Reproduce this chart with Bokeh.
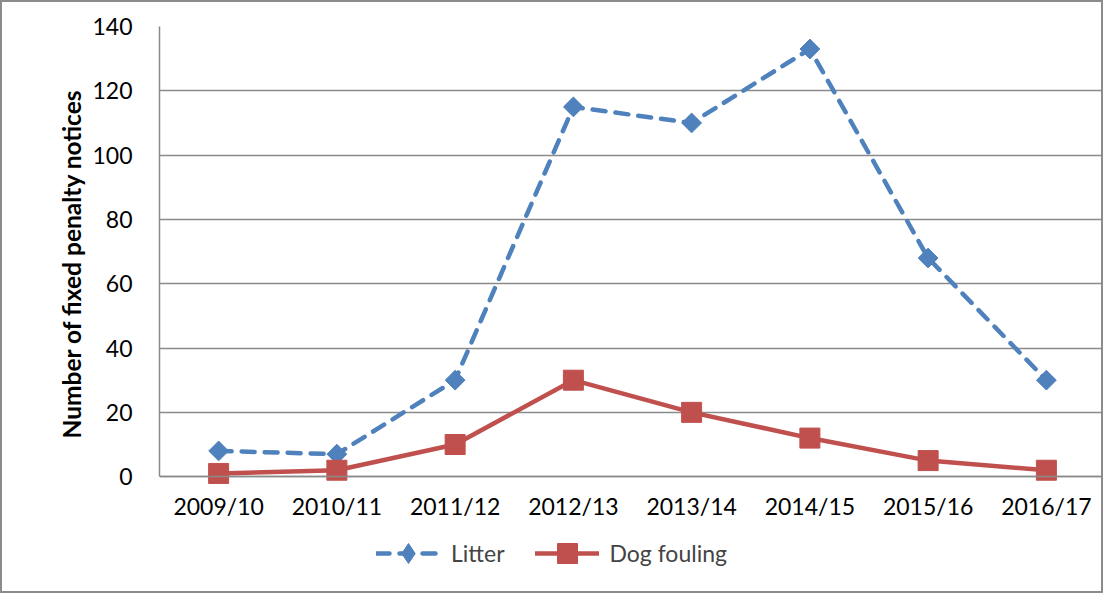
import math
from bokeh.plotting import figure
from bokeh.models import (FactorRange, Range1d, Legend, LegendItem, FixedTicker, Title,
                          ColumnDataSource)
from bokeh.embed import file_html
from bokeh.resources import INLINE

years = ["2009/10", "2010/11", "2011/12", "2012/13", "2013/14", "2014/15", "2015/16", "2016/17"]
litter = [8, 7, 30, 115, 110, 133, 68, 30]
dog_fouling = [1, 2, 10, 30, 20, 12, 5, 2]
y_ticks = [0, 20, 40, 60, 80, 100, 120, 140]

FONT = "Lato"
GRID = "#8a8a8a"
BLUE = "#4F81BD"
RED = "#C0504D"

# frame runs from the top gridline down to the bottom of the chart box;
# the value axis occupies 447 px for 0..140, the rest (118 px) holds labels + legend
Y_BOTTOM = -118 / (447 / 140)

p = figure(x_range=FactorRange(*years), y_range=Range1d(Y_BOTTOM, 140),
           width=1103, height=593, output_backend="svg", toolbar_location=None,
           min_border_left=157, min_border_top=24, min_border_bottom=0, min_border_right=0,
           styles={"border": "2px solid #8c8c8c", "box-sizing": "border-box"})
p.outline_line_color = None
p.background_fill_color = "white"

p.xgrid.grid_line_color = None
p.ygrid.grid_line_color = GRID
p.ygrid.grid_line_width = 1.5
p.yaxis.ticker = FixedTicker(ticks=y_ticks)
p.yaxis.bounds = (0, 140)
p.xaxis.fixed_location = 0

for ax in (p.xaxis, p.yaxis):
    ax.axis_line_color = GRID
    ax.axis_line_width = 1.5
    ax.major_tick_line_color = None
    ax.minor_tick_line_color = None
    ax.major_label_text_font = FONT
    ax.major_label_text_font_size = "23px"
    ax.major_label_text_color = "black"

p.xaxis.major_label_standoff = 9
p.yaxis.major_label_standoff = 21

# value-axis title, centred on the 0..140 part of the axis
ytitle = Title(text="Number of fixed penalty notices", align="left", offset=157,
               text_font=FONT, text_font_style="bold", text_font_size="24.5px",
               text_color="black", standoff=8)
p.add_layout(ytitle, "left")

src = ColumnDataSource(dict(year=years, litter=litter, dog=dog_fouling))

l1 = p.line("year", "litter", source=src, line_color=BLUE, line_width=4.5,
            line_dash="13 10", line_cap="round")
m1 = p.scatter("year", "litter", source=src, marker="square", angle=math.pi / 4, size=14,
               fill_color=BLUE, line_color=BLUE)
l2 = p.line("year", "dog", source=src, line_color=RED, line_width=4.5, line_cap="round")
m2 = p.scatter("year", "dog", source=src, marker="square", size=20, fill_color=RED, line_color=RED)
# legend-only marker (legend markers are drawn unrotated); not shown in the plot itself
m1_leg = p.scatter("year", "litter", source=src, marker="diamond",
                   fill_color=BLUE, line_color=BLUE, visible=False)

legend = Legend(items=[LegendItem(label="Litter", renderers=[l1, m1_leg]),
                       LegendItem(label="Dog fouling", renderers=[l2, m2])],
                location=(217, 17), orientation="horizontal",
                border_line_color=None, background_fill_alpha=0,
                inactive_fill_alpha=0,
                label_text_font=FONT, label_text_font_size="23px",
                glyph_width=64, glyph_height=50, label_standoff=11, spacing=30,
                padding=0, margin=0)
p.add_layout(legend, "center")

open("out.html", "w").write(file_html(p, INLINE))
